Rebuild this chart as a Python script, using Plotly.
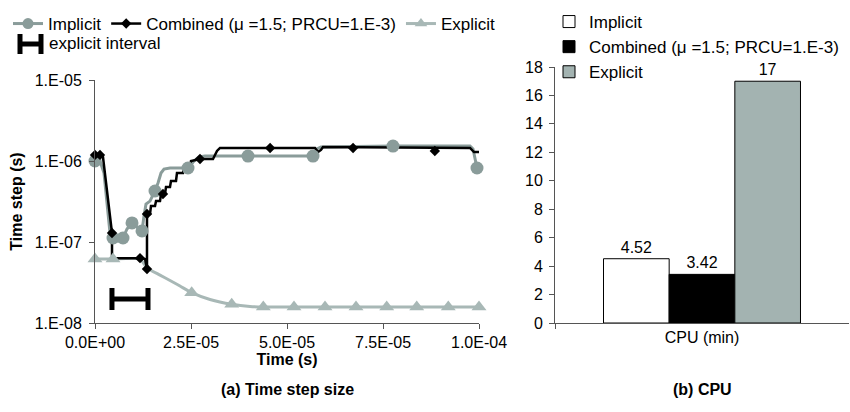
import plotly.graph_objects as go

# ---------------- data: (a) time step size ----------------
imp_t = [0, 1.30e-6, 2.34e-6, 3.13e-6, 3.91e-6, 4.69e-6, 5.99e-6, 7.29e-6, 8.33e-6, 9.64e-6,
         10.94e-6, 12.24e-6, 12.76e-6, 13.28e-6, 14.32e-6, 15.63e-6, 16.41e-6, 17.19e-6,
         17.97e-6, 19.53e-6, 24.22e-6, 25.78e-6, 27.08e-6, 28.65e-6, 39.84e-6, 56.77e-6,
         57.81e-6, 58.85e-6, 77.6e-6, 97.66e-6, 98.44e-6, 99.48e-6]
imp_dt = [1.0e-6, 1.0e-6, 7.11e-7, 2.78e-7, 1.29e-7, 1.12e-7, 1.03e-7, 1.12e-7, 1.45e-7, 1.72e-7,
          1.53e-7, 1.37e-7, 2.09e-7, 2.94e-7, 3.2e-7, 4.26e-7, 5.35e-7, 7.11e-7,
          7.96e-7, 8.2e-7, 8.2e-7, 1.0e-6, 1.12e-6, 1.15e-6, 1.15e-6, 1.15e-6,
          1.41e-6, 1.49e-6, 1.53e-6, 1.53e-6, 1.41e-6, 8.2e-7]
imp_mark_t = [0, 4.69e-6, 7.29e-6, 9.64e-6, 12.24e-6, 15.63e-6, 24.22e-6, 39.84e-6, 56.77e-6, 77.6e-6, 99.48e-6]
imp_mark_dt = [1.0e-6, 1.12e-7, 1.12e-7, 1.72e-7, 1.37e-7, 4.26e-7, 8.2e-7, 1.15e-6, 1.15e-6, 1.53e-6, 8.2e-7]

comb_t = [0, 1.30e-6, 2.08e-6, 2.86e-6, 3.65e-6, 4.43e-6, 4.43e-6, 11.72e-6, 13.02e-6, 13.54e-6,
          13.54e-6, 14.32e-6, 14.58e-6, 15.63e-6, 15.89e-6, 16.93e-6, 17.19e-6, 18.23e-6,
          18.49e-6, 19.53e-6, 19.79e-6, 21.09e-6, 21.35e-6, 22.92e-6, 23.18e-6, 24.74e-6,
          25.0e-6, 27.34e-6, 30.73e-6, 31.77e-6, 32.55e-6, 57.29e-6, 58.07e-6, 58.85e-6,
          59.38e-6, 97.66e-6, 98.7e-6, 100e-6]
comb_dt = [1.19e-6, 1.19e-6, 1.12e-6, 5.66e-7, 2.41e-7, 1.29e-7, 6.32e-8, 6.32e-8, 6.16e-8, 4.64e-8,
           2.22e-7, 2.22e-7, 2.78e-7, 2.78e-7, 3.2e-7, 3.2e-7, 3.91e-7, 3.91e-7,
           4.77e-7, 4.77e-7, 5.66e-7, 5.66e-7, 7.11e-7, 7.11e-7, 8.43e-7, 8.43e-7,
           1.0e-6, 1.06e-6, 1.06e-6, 1.33e-6, 1.45e-6, 1.45e-6, 1.29e-6, 1.37e-6,
           1.49e-6, 1.45e-6, 1.29e-6, 1.29e-6]
comb_mark_t = [0, 1.30e-6, 4.43e-6, 11.72e-6, 13.54e-6, 13.54e-6, 17.7e-6, 27.34e-6, 45.6e-6, 67.2e-6, 88.5e-6]
comb_mark_dt = [1.19e-6, 1.19e-6, 1.29e-7, 6.32e-8, 4.64e-8, 2.22e-7, 3.91e-7, 1.06e-6, 1.45e-6, 1.45e-6, 1.33e-6]

exp_t = [0, 4.69e-6, 11.72e-6, 13.54e-6, 16.93e-6, 19.53e-6, 22.14e-6, 25.18e-6, 29.95e-6,
         35.6e-6, 40.36e-6, 43.83e-6, 100e-6]
exp_dt = [6.16e-8, 6.16e-8, 6.16e-8, 4.8e-8, 3.9e-8, 3.35e-8, 2.86e-8, 2.37e-8, 1.95e-8,
          1.70e-8, 1.60e-8, 1.58e-8, 1.58e-8]
exp_mark_t = [0, 4.69e-6, 25.18e-6, 35.6e-6, 43.83e-6, 51.82e-6, 59.9e-6, 67.97e-6, 75.96e-6, 83.78e-6, 92.0e-6, 100e-6]
exp_mark_dt = [6.16e-8, 6.16e-8, 2.37e-8, 1.70e-8, 1.58e-8, 1.58e-8, 1.58e-8, 1.58e-8, 1.58e-8, 1.58e-8, 1.58e-8, 1.58e-8]

interval_center_t = [9.11e-6]
interval_half_width = [4.69e-6]
interval_dt = [1.98e-8]

x_tickvals = [0, 2.5e-5, 5.0e-5, 7.5e-5, 1.0e-4]
x_ticktext = ["0.0E+00", "2.5E-05", "5.0E-05", "7.5E-05", "1.0E-04"]
y_tickvals = [1e-8, 1e-7, 1e-6, 1e-5]
y_ticktext = ["1.E-08", "1.E-07", "1.E-06", "1.E-05"]

# ---------------- data: (b) CPU ----------------
cpu_category = ["CPU (min)"]
cpu_implicit = [4.52]
cpu_combined = [3.42]
cpu_explicit = [17]

names = ["Implicit", "Combined (\u03bc =1.5; PRCU=1.E-3)", "Explicit"]

IMP_C = "#8a9c9a"
EXP_C = "#a8b8b6"
BAR_EXP = "#a3b3b1"
FONT = "Liberation Sans, Arial, sans-serif"

fig = go.Figure()

# lines (no legend)
fig.add_trace(go.Scatter(x=imp_t, y=imp_dt, mode="lines", line=dict(color=IMP_C, width=3),
                         showlegend=False, cliponaxis=False, xaxis="x", yaxis="y"))
fig.add_trace(go.Scatter(x=exp_t, y=exp_dt, mode="lines", line=dict(color=EXP_C, width=3, shape="spline", smoothing=0.6),
                         showlegend=False, cliponaxis=False, xaxis="x", yaxis="y"))
fig.add_trace(go.Scatter(x=comb_t, y=comb_dt, mode="lines", line=dict(color="black", width=2.5),
                         showlegend=False, cliponaxis=False, xaxis="x", yaxis="y"))
# markers
fig.add_trace(go.Scatter(x=imp_mark_t, y=imp_mark_dt, mode="markers",
                         marker=dict(color=IMP_C, size=13, symbol="circle"),
                         showlegend=False, cliponaxis=False, xaxis="x", yaxis="y"))
fig.add_trace(go.Scatter(x=exp_mark_t, y=exp_mark_dt, mode="markers",
                         marker=dict(color=EXP_C, size=13, symbol="triangle-up"),
                         showlegend=False, cliponaxis=False, xaxis="x", yaxis="y"))
fig.add_trace(go.Scatter(x=comb_mark_t, y=comb_mark_dt, mode="markers",
                         marker=dict(color="black", size=8, symbol="diamond"),
                         showlegend=False, cliponaxis=False, xaxis="x", yaxis="y"))
# explicit interval
fig.add_trace(go.Scatter(x=interval_center_t, y=interval_dt, mode="markers",
                         marker=dict(size=1, color="rgba(0,0,0,0)"),
                         error_x=dict(type="data", array=interval_half_width, color="black", thickness=5, width=11),
                         showlegend=False, xaxis="x", yaxis="y"))
# legend entries for left chart
fig.add_trace(go.Scatter(x=[None], y=[None], mode="lines+markers", name=names[0],
                         line=dict(color=IMP_C, width=3), marker=dict(color=IMP_C, size=11),
                         legend="legend", xaxis="x", yaxis="y"))
fig.add_trace(go.Scatter(x=[None], y=[None], mode="lines+markers", name=names[1],
                         line=dict(color="black", width=2.5), marker=dict(color="black", size=8, symbol="diamond"),
                         legend="legend", xaxis="x", yaxis="y"))
fig.add_trace(go.Scatter(x=[None], y=[None], mode="lines+markers", name=names[2],
                         line=dict(color=EXP_C, width=3), marker=dict(color=EXP_C, size=11, symbol="triangle-up"),
                         legend="legend", xaxis="x", yaxis="y"))

# bars
for vals, nm, col in [(cpu_implicit, names[0], "white"), (cpu_combined, names[1], "black"), (cpu_explicit, names[2], BAR_EXP)]:
    fig.add_trace(go.Bar(x=cpu_category, y=vals, name=nm, marker=dict(color=col, line=dict(color="black", width=1)),
                         texttemplate="%{y}", textposition="outside", cliponaxis=False,
                         textfont=dict(color="black", size=16, family=FONT),
                         legend="legend2", xaxis="x2", yaxis="y2"))

axis_common = dict(showgrid=False, zeroline=False, showline=True, linecolor="#555", linewidth=1,
                   ticks="outside", tickcolor="#555", ticklen=5, tickfont=dict(size=16, color="black", family=FONT))

fig.update_layout(
    width=850, height=412,
    margin=dict(l=0, r=0, t=0, b=0),
    paper_bgcolor="white", plot_bgcolor="white",
    font=dict(family=FONT, color="black", size=16),
    barmode="group", bargap=0.33, bargroupgap=0,
    xaxis=dict(domain=[95/850, 479/850], range=[0, 1e-4], tickvals=x_tickvals, ticktext=x_ticktext,
               title=dict(text="<b>Time (s)</b>", font=dict(size=16), standoff=2), automargin=False,
               anchor="y", **axis_common),
    yaxis=dict(domain=[1-323/412, 1-80/412], type="log", range=[-8, -5], tickvals=y_tickvals, ticktext=y_ticktext,
               title=dict(text="<b>Time step (s)</b>", font=dict(size=16), standoff=8), automargin=False,
               anchor="x", ticklabelstandoff=4, **axis_common),
    xaxis2=dict(domain=[555/850, 849/850], type="category", range=[-0.5, 0.5], tickson="boundaries",
                automargin=False, anchor="y2", **axis_common),
    yaxis2=dict(domain=[1-323/412, 1-67/412], range=[0, 18], dtick=2, automargin=False,
                anchor="x2", ticklabelstandoff=3, **axis_common),
    legend=dict(orientation="h", x=8/850, xanchor="left", y=1-6/412, yanchor="top",
                font=dict(size=17, family=FONT), bgcolor="rgba(0,0,0,0)", itemwidth=30),
    legend2=dict(orientation="v", x=549/850, xanchor="left", y=1-4/412, yanchor="top",
                 font=dict(size=17, family=FONT), bgcolor="rgba(0,0,0,0)", traceorder="normal"),
    annotations=[
        dict(text="<b>(a) Time step size</b>", x=287/850, y=1-389/412, xref="paper", yref="paper",
             showarrow=False, font=dict(size=16), xanchor="center", yanchor="middle"),
        dict(text="<b>(b) CPU</b>", x=702/850, y=1-389/412, xref="paper", yref="paper",
             showarrow=False, font=dict(size=16), xanchor="center", yanchor="middle"),
        dict(text="explicit interval", x=47/850, y=1-44/412, xref="paper", yref="paper",
             showarrow=False, font=dict(size=17), xanchor="left", yanchor="middle"),
    ],
    shapes=[
        dict(type="line", xref="paper", yref="paper", x0=20/850, x1=20/850, y0=1-34/412, y1=1-54/412,
             line=dict(color="black", width=5)),
        dict(type="line", xref="paper", yref="paper", x0=41/850, x1=41/850, y0=1-34/412, y1=1-54/412,
             line=dict(color="black", width=5)),
        dict(type="line", xref="paper", yref="paper", x0=20/850, x1=41/850, y0=1-44/412, y1=1-44/412,
             line=dict(color="black", width=5)),
    ],
)

fig.write_html("out.html")
